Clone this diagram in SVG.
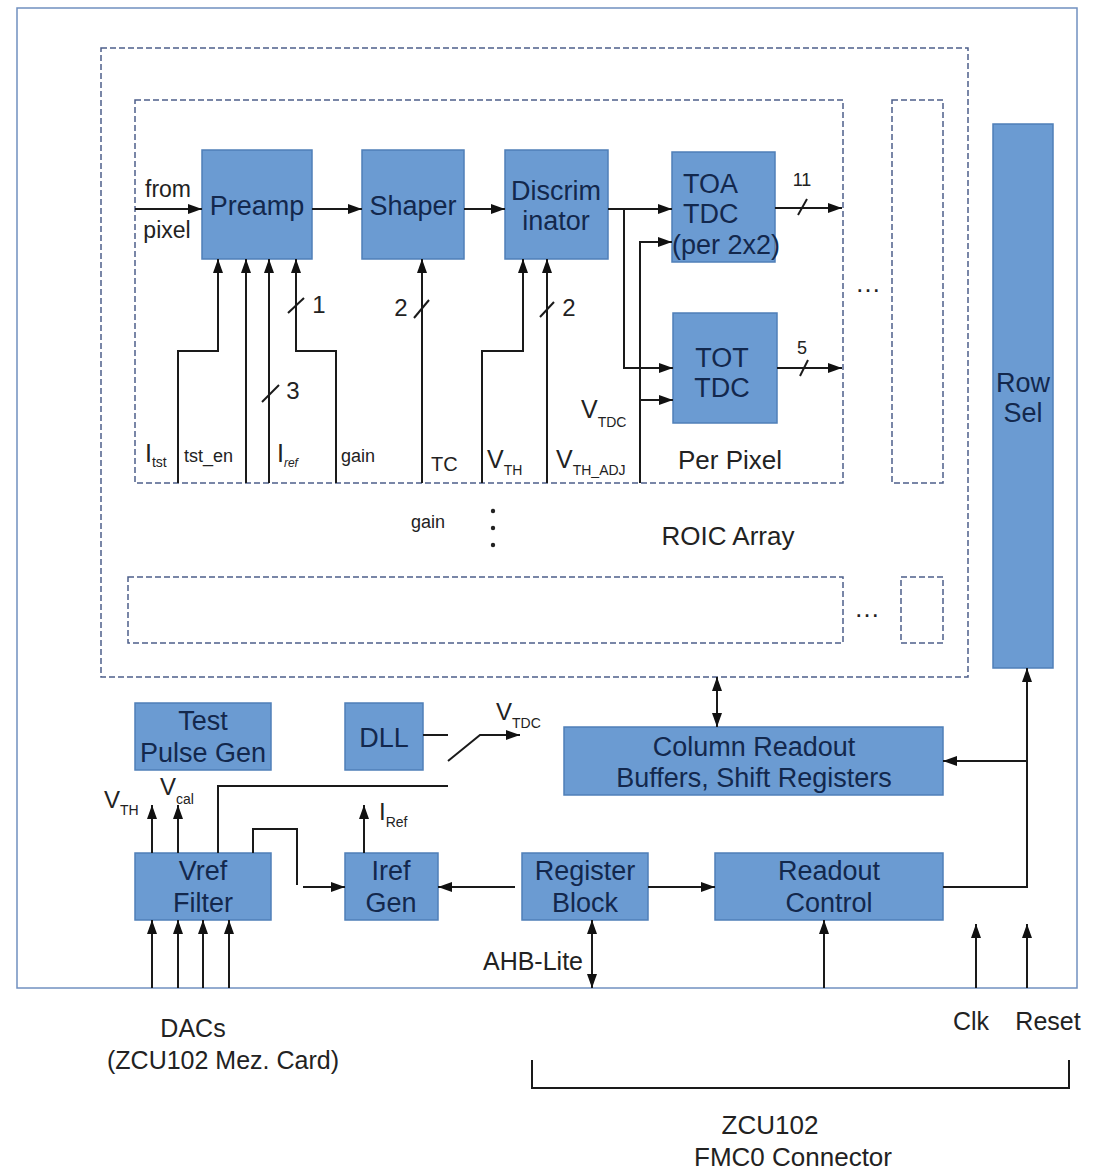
<svg xmlns="http://www.w3.org/2000/svg" width="1094" height="1173" viewBox="0 0 1094 1173">
<style>
.blk{fill:#6b9bd2;stroke:#4f7fb8;stroke-width:1.5}
.bt{font-family:"Liberation Sans",Arial,sans-serif;font-size:27px;fill:#13284d;text-anchor:middle}
.bts{font-family:"Liberation Sans",Arial,sans-serif;font-size:27px;fill:#13284d;text-anchor:start}
.dash{fill:none;stroke:#4d5f8a;stroke-width:1.5;stroke-dasharray:6 3}
.ln{fill:none;stroke:#1a1a1a;stroke-width:2}
.ar{marker-end:url(#ah)}
.ar2{marker-start:url(#ah);marker-end:url(#ah)}
.t{font-family:"Liberation Sans",Arial,sans-serif;fill:#222}
</style>
<defs>
<marker id="ah" viewBox="0 0 14 10" refX="14" refY="5" markerWidth="14" markerHeight="10" markerUnits="userSpaceOnUse" orient="auto-start-reverse"><path d="M0,0L14,5L0,10z" fill="#111"/></marker>
</defs>
<rect x="0" y="0" width="1094" height="1173" fill="#fff"/>
<rect id="outer" x="17" y="8" width="1060" height="980" fill="none" stroke="#7090c0" stroke-width="1.5"/>
<g id="roic-array">
<rect class="dash" x="101" y="48" width="867" height="629"/>
<text class="t" x="728" y="545" font-size="26" text-anchor="middle">ROIC Array</text>
<text class="t" x="428" y="528" font-size="18" text-anchor="middle">gain</text>
<circle cx="493" cy="511" r="2.2" fill="#222"/><circle cx="493" cy="528" r="2.2" fill="#222"/><circle cx="493" cy="545" r="2.2" fill="#222"/>
</g>
<g id="per-pixel">
<rect class="dash" x="135" y="100" width="708" height="383"/>
<text class="t" x="730" y="469" font-size="26" text-anchor="middle">Per Pixel</text>
</g>
<g id="pixel-col-right"><rect class="dash" x="892" y="100" width="51" height="383"/></g>
<g id="dots1"><text class="t" x="868" y="292" font-size="26" text-anchor="middle">…</text></g>
<g id="row-bottom"><rect class="dash" x="128" y="577" width="715" height="66"/></g>
<g id="row-bottom-right"><rect class="dash" x="901" y="577" width="42" height="66"/></g>
<g id="dots2"><text class="t" x="867" y="617" font-size="26" text-anchor="middle">…</text></g>
<g id="rowsel"><rect class="blk" x="993" y="124" width="60" height="544"/><text class="bt" x="1023" y="392">Row</text><text class="bt" x="1023" y="422">Sel</text></g>
<g id="preamp"><rect class="blk" x="202" y="150" width="110" height="109"/><text class="bt" x="257" y="215">Preamp</text></g>
<g id="shaper"><rect class="blk" x="362" y="150" width="102" height="109"/><text class="bt" x="413" y="215">Shaper</text></g>
<g id="discrim"><rect class="blk" x="505" y="150" width="103" height="109"/><text class="bt" x="556" y="200">Discrim</text><text class="bt" x="556" y="230">inator</text></g>
<g id="toa"><rect class="blk" x="672" y="152" width="103" height="110"/><text class="bts" x="683" y="193">TOA</text><text class="bts" x="683" y="223">TDC</text><text class="bts" x="672" y="254">(per 2x2)</text></g>
<g id="tot"><rect class="blk" x="673" y="313" width="104" height="110"/><text class="bt" x="722" y="367">TOT</text><text class="bt" x="722" y="397">TDC</text></g>
<g id="testpulse"><rect class="blk" x="135" y="703" width="136" height="67"/><text class="bt" x="203" y="730">Test</text><text class="bt" x="203" y="762">Pulse Gen</text></g>
<g id="dll"><rect class="blk" x="345" y="703" width="78" height="67"/><text class="bt" x="384" y="747">DLL</text></g>
<g id="colreadout"><rect class="blk" x="564" y="727" width="379" height="68"/><text class="bt" x="754" y="756">Column Readout</text><text class="bt" x="754" y="787">Buffers, Shift Registers</text></g>
<g id="vref"><rect class="blk" x="135" y="853" width="136" height="67"/><text class="bt" x="203" y="880">Vref</text><text class="bt" x="203" y="912">Filter</text></g>
<g id="iref"><rect class="blk" x="345" y="853" width="93" height="67"/><text class="bt" x="391" y="880">Iref</text><text class="bt" x="391" y="912">Gen</text></g>
<g id="regblock"><rect class="blk" x="522" y="853" width="126" height="67"/><text class="bt" x="585" y="880">Register</text><text class="bt" x="585" y="912">Block</text></g>
<g id="readoutctrl"><rect class="blk" x="715" y="853" width="228" height="67"/><text class="bt" x="829" y="880">Readout</text><text class="bt" x="829" y="912">Control</text></g>
<g id="connectors">
<path class="ln ar" d="M135,209H202"/>
<path class="ln ar" d="M312,209H362"/>
<path class="ln ar" d="M464,209H505"/>
<path class="ln ar" d="M608,209H672"/>
<path class="ln ar" d="M624,209V368H673"/>
<path class="ln ar" d="M640,483V242H672"/>
<path class="ln ar" d="M640,400H673"/>
<path class="ln ar" d="M775,208H842"/>
<path class="ln" d="M798,215L807,199"/>
<path class="ln ar" d="M777,368H842"/>
<path class="ln" d="M800,376L808,360"/>
<path class="ln ar" d="M178,483V351H218V259"/>
<path class="ln ar" d="M246,483V259"/>
<path class="ln ar" d="M269,483V259"/>
<path class="ln" d="M262,402L279,385"/>
<path class="ln ar" d="M336,483V351H296V259"/>
<path class="ln" d="M288,313L304,298"/>
<path class="ln ar" d="M422,483V259"/>
<path class="ln" d="M414,318L429,300"/>
<path class="ln ar" d="M482,483V351H523V259"/>
<path class="ln ar" d="M547,483V259"/>
<path class="ln" d="M540,317L554,302"/>
<path class="ln ar2" d="M717,677V727"/>
<path class="ln ar" d="M943,887H1027V668"/>
<path class="ln ar" d="M1027,761H943"/>
<path class="ln ar" d="M976,988V924"/>
<path class="ln ar" d="M1027,988V924"/>
<path class="ln ar" d="M824,988V920"/>
<path class="ln ar2" d="M592,988V920"/>
<path class="ln ar" d="M648,887H715"/>
<path class="ln ar" d="M515,887H438"/>
<path class="ln" d="M253,853V829H297V885"/>
<path class="ln ar" d="M303,887H345"/>
<path class="ln ar" d="M364,853V805"/>
<path class="ln ar" d="M152,853V805"/>
<path class="ln ar" d="M178,853V805"/>
<path class="ln" d="M218,853V786H448"/>
<path class="ln" d="M423,735H448"/>
<path class="ln ar" d="M448,761L480,735H520"/>
<path class="ln ar" d="M152,988V920"/>
<path class="ln ar" d="M178,988V920"/>
<path class="ln ar" d="M203,988V920"/>
<path class="ln ar" d="M229,988V920"/>
<path class="ln" d="M532,1060V1088H1069V1060"/>
</g>
<g id="labels">
<text class="t" x="168" y="197" font-size="23" text-anchor="middle">from</text>
<text class="t" x="167" y="238" font-size="23" text-anchor="middle">pixel</text>
<text class="t" x="802" y="186" font-size="18" text-anchor="middle">11</text>
<text class="t" x="802" y="354" font-size="18" text-anchor="middle">5</text>
<text class="t" x="319" y="313" font-size="24" text-anchor="middle">1</text>
<text class="t" x="293" y="399" font-size="24" text-anchor="middle">3</text>
<text class="t" x="401" y="316" font-size="24" text-anchor="middle">2</text>
<text class="t" x="569" y="316" font-size="24" text-anchor="middle">2</text>
<text class="t" x="145" y="462" font-size="25">I<tspan font-size="14" dy="5">tst</tspan></text>
<text class="t" x="184" y="462" font-size="18">tst_en</text>
<text class="t" x="277" y="462" font-size="25">I<tspan font-size="12" dy="5" font-style="italic">ref</tspan></text>
<text class="t" x="341" y="462" font-size="18">gain</text>
<text class="t" x="431" y="471" font-size="20">TC</text>
<text class="t" x="487" y="468" font-size="25">V<tspan font-size="14" dy="7">TH</tspan></text>
<text class="t" x="556" y="468" font-size="25">V<tspan font-size="14" dy="7">TH_ADJ</tspan></text>
<text class="t" x="581" y="418" font-size="25">V<tspan font-size="14" dy="9">TDC</tspan></text>
<text class="t" x="496" y="720" font-size="24">V<tspan font-size="14" dy="8">TDC</tspan></text>
<text class="t" x="104" y="808" font-size="24">V<tspan font-size="14" dy="7">TH</tspan></text>
<text class="t" x="160" y="795" font-size="24">V<tspan font-size="14" dy="9">cal</tspan></text>
<text class="t" x="379" y="820" font-size="24">I<tspan font-size="14" dy="7">Ref</tspan></text>
<text class="t" x="583" y="970" font-size="25" text-anchor="end">AHB-Lite</text>
<text class="t" x="193" y="1037" font-size="25" text-anchor="middle">DACs</text>
<text class="t" x="223" y="1069" font-size="25" text-anchor="middle">(ZCU102 Mez. Card)</text>
<text class="t" x="971" y="1030" font-size="25" text-anchor="middle">Clk</text>
<text class="t" x="1048" y="1030" font-size="25" text-anchor="middle">Reset</text>
<text class="t" x="770" y="1134" font-size="26" text-anchor="middle">ZCU102</text>
<text class="t" x="793" y="1166" font-size="26" text-anchor="middle">FMC0 Connector</text>
</g>
</svg>
